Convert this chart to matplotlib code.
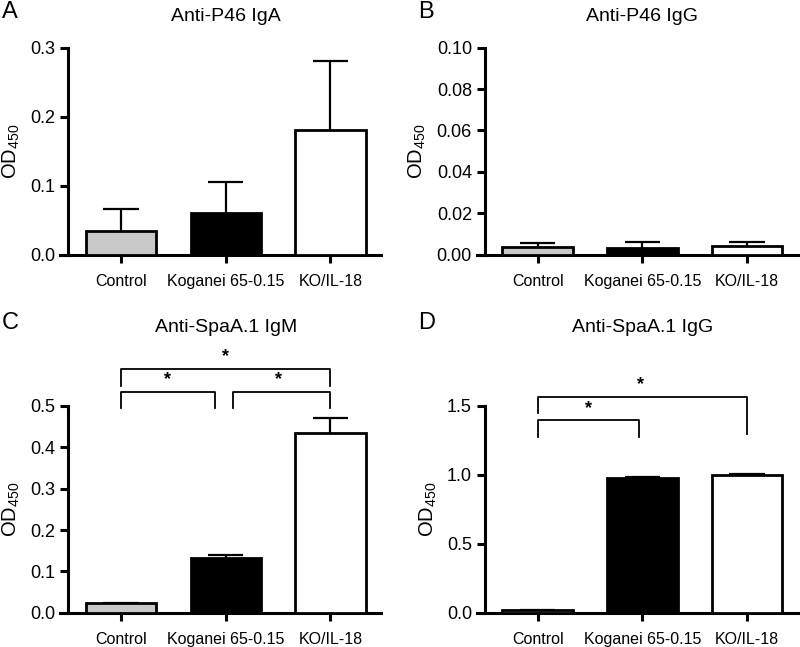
import numpy as np
import matplotlib
matplotlib.use("Agg")
import matplotlib.pyplot as plt

plt.rcParams['font.family'] = ['Liberation Sans', 'DejaVu Sans']
plt.rcParams['mathtext.fontset'] = 'custom'
plt.rcParams['mathtext.rm'] = 'Liberation Sans'

# groups and bar colours
groups = ['Control', 'Koganei 65-0.15', 'KO/IL-18']
colors = ['#c8c8c8', 'black', 'white']

# panel data: mean and upper error (SD)
titles = ['Anti-P46 IgA', 'Anti-P46 IgG', 'Anti-SpaA.1 IgM', 'Anti-SpaA.1 IgG']
letters = ['A', 'B', 'C', 'D']
p46_iga = [0.035, 0.060, 0.181]
p46_iga_err = [0.032, 0.046, 0.099]
p46_igg = [0.0040, 0.0035, 0.0043]
p46_igg_err = [0.0016, 0.0028, 0.0017]
spaa_igm = [0.024, 0.132, 0.435]
spaa_igm_err = [0.001, 0.008, 0.036]
spaa_igg = [0.020, 0.975, 0.995]
spaa_igg_err = [0.002, 0.006, 0.008]

means = [p46_iga, p46_igg, spaa_igm, spaa_igg]
errs = [p46_iga_err, p46_igg_err, spaa_igm_err, spaa_igg_err]
ymax = [0.3, 0.10, 0.5, 1.5]
yticks = [np.arange(0, 0.31, 0.1), np.arange(0, 0.101, 0.02),
          np.arange(0, 0.51, 0.1), np.arange(0, 1.51, 0.5)]
yfmt = ['{:.1f}', '{:.2f}', '{:.1f}', '{:.1f}']

# significance brackets: (x1, x2, y, leg end left, leg end right, star x, star y)
brackets = {
    2: [(0.0, 0.9, 0.534, 0.495, 0.495, 0.45, 0.542),
        (1.07, 2.0, 0.534, 0.495, 0.495, 1.5, 0.542),
        (0.0, 2.0, 0.589, 0.548, 0.548, 1.0, 0.597)],
    3: [(0.0, 0.97, 1.399, 1.275, 1.275, 0.49, 1.42),
        (0.0, 2.0, 1.565, 1.449, 1.297, 0.98, 1.59)],
}

fig = plt.figure(figsize=(8.0, 6.47), dpi=100)
positions = [(0.075, 0.606), (0.596, 0.606), (0.075, 0.0526), (0.596, 0.0526)]
w, h = 0.401, 0.3205
# title / letter heights (figure fraction) for the top and bottom rows
title_y = [0.975, 0.975, 0.4945, 0.4945]
xmin, xmax = -0.58, 2.48

x = np.arange(len(groups))
for i in range(4):
    ax = fig.add_axes([positions[i][0], positions[i][1], w, h])
    m = np.array(means[i])
    e = np.array(errs[i])
    ax.bar(x, m, width=0.67, color=colors, edgecolor='black', linewidth=2.0, zorder=3)
    # upper error bars
    ax.vlines(x, m, m + e, color='black', linewidth=1.6, zorder=2)
    ax.hlines(m + e, x - 0.17, x + 0.17, color='black', linewidth=1.6, zorder=2)

    ax.set_xlim(xmin, xmax)
    ax.set_ylim(0, ymax[i])
    ax.spines['left'].set_position(('data', -0.5))
    ax.spines['top'].set_visible(False)
    ax.spines['right'].set_visible(False)
    ax.spines['left'].set_linewidth(2.2)
    ax.spines['bottom'].set_linewidth(2.2)
    ax.set_xticks(x)
    ax.set_xticklabels(groups, fontsize=11.5)
    ax.set_yticks(yticks[i])
    ax.set_yticklabels([yfmt[i].format(v) for v in yticks[i]], fontsize=13)
    ax.tick_params(axis='both', width=2.2, length=6, direction='out')
    ax.tick_params(axis='x', pad=8)
    ax.set_ylabel(r'OD$_{\mathregular{450}}$', fontsize=14.5, labelpad=6)
    ax.patch.set_alpha(0)

    cx = positions[i][0] + w * (1.0 - xmin) / (xmax - xmin)
    fig.text(cx, title_y[i], titles[i], ha='center', va='center', fontsize=14)
    fig.text(positions[i][0] - 0.073, title_y[i] + 0.006, letters[i],
             fontsize=17, ha='left', va='center')

    for (x1, x2, yb, l1, l2, sx, sy) in brackets.get(i, []):
        ax.plot([x1, x1, x2, x2], [l1, yb, yb, l2], color='black',
                linewidth=1.3, clip_on=False)
        ax.text(sx, sy, '*', ha='center', va='bottom', fontsize=13,
                fontweight='bold', clip_on=False)

fig.savefig('out.png', dpi=100)
